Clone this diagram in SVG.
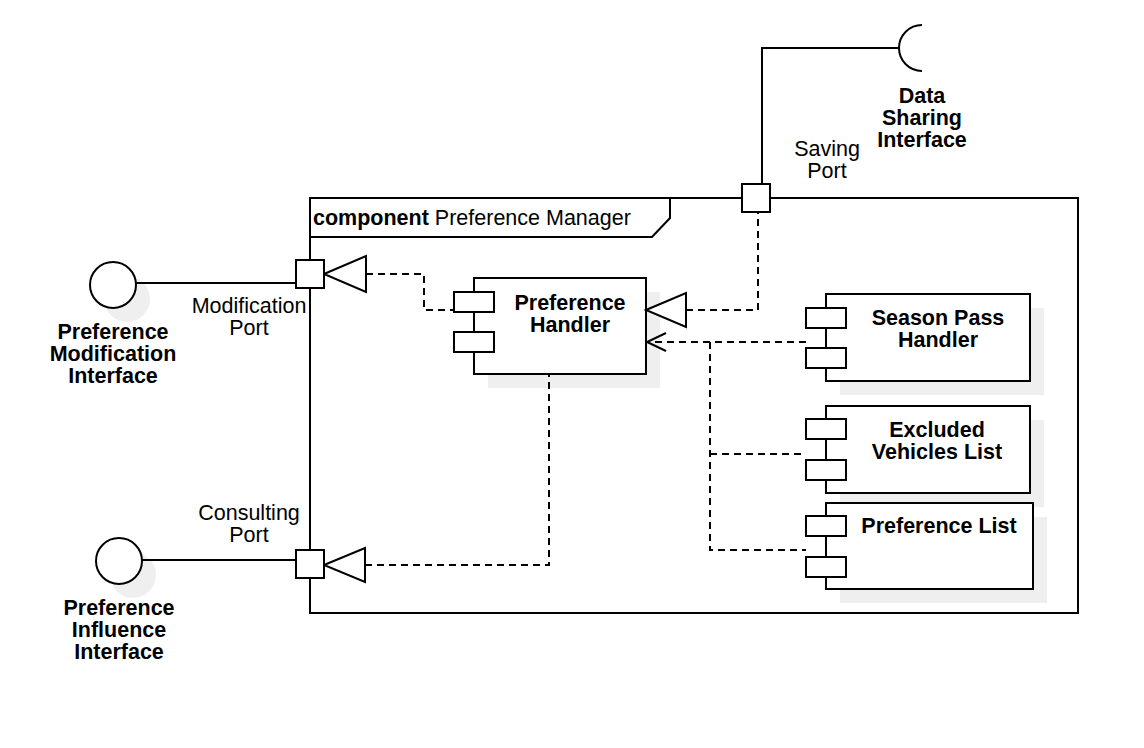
<svg xmlns="http://www.w3.org/2000/svg" width="1144" height="748" viewBox="0 0 1144 748">
<style>
.s{fill:none;stroke:#000;stroke-width:2}
.w{fill:#fff;stroke:#000;stroke-width:2}
.sh{fill:#efefef;stroke:none}
.d{fill:none;stroke:#000;stroke-width:2;stroke-dasharray:7 5}
.t{font-family:"Liberation Sans",Arial,sans-serif;font-size:21.5px;fill:#000}
.b{font-family:"Liberation Sans",Arial,sans-serif;font-size:21.5px;font-weight:bold;fill:#000}
.m{text-anchor:middle}
</style>
<rect width="1144" height="748" fill="#fff"/>
<g id="frame">
<rect x="310" y="198" width="768" height="415" class="s"/>
<path d="M310 237 L652 237 L670 218 L670 198" class="s"/>
<text x="313" y="225" class="t" font-size="22px"><tspan font-weight="bold">component</tspan> Preference Manager</text>
</g>
<g id="pref-mod-interface">
<circle cx="127" cy="299" r="23" class="sh"/>
<circle cx="113" cy="285" r="23" class="w"/>
<text class="b m" x="113" y="339">Preference</text>
<text class="b m" x="113" y="361">Modification</text>
<text class="b m" x="113" y="383">Interface</text>
</g>
<g id="pref-infl-interface">
<circle cx="133" cy="575" r="23" class="sh"/>
<circle cx="119" cy="561" r="23" class="w"/>
<text class="b m" x="119" y="615">Preference</text>
<text class="b m" x="119" y="637">Influence</text>
<text class="b m" x="119" y="659">Interface</text>
</g>
<g id="data-sharing-interface">
<path d="M922 25 A23 23 0 0 0 922 71" class="s"/>
<text class="b m" x="922" y="103">Data</text>
<text class="b m" x="922" y="125">Sharing</text>
<text class="b m" x="922" y="147">Interface</text>
</g>
<g id="preference-handler">
<rect x="488" y="292" width="172" height="96" class="sh"/>
<rect x="474" y="278" width="172" height="96" class="w"/>
<rect x="454" y="292" width="40" height="20" class="w"/>
<rect x="454" y="332" width="40" height="20" class="w"/>
<text class="b m" x="570" y="310">Preference</text>
<text class="b m" x="570" y="332">Handler</text>
</g>
<g id="season-pass-handler">
<rect x="840" y="308" width="204" height="87" class="sh"/>
<rect x="826" y="294" width="204" height="87" class="w"/>
<rect x="806" y="308" width="40" height="20" class="w"/>
<rect x="806" y="348" width="40" height="20" class="w"/>
<text class="b m" x="938" y="325">Season Pass</text>
<text class="b m" x="938" y="347">Handler</text>
</g>
<g id="excluded-vehicles-list">
<rect x="840" y="420" width="204" height="87" class="sh"/>
<rect x="826" y="406" width="204" height="87" class="w"/>
<rect x="806" y="419" width="40" height="20" class="w"/>
<rect x="806" y="460" width="40" height="20" class="w"/>
<text class="b m" x="937" y="437">Excluded</text>
<text class="b m" x="937" y="459">Vehicles List</text>
</g>
<g id="preference-list">
<rect x="840" y="517" width="207" height="86" class="sh"/>
<rect x="826" y="503" width="207" height="86" class="w"/>
<rect x="806" y="516" width="40" height="20" class="w"/>
<rect x="806" y="557" width="40" height="20" class="w"/>
<text class="b m" x="939" y="533">Preference List</text>
</g>
<g id="connectors">
<path d="M136 283 L296 283" class="s"/>
<path d="M142 560 L296 560" class="s"/>
<path d="M762 184 L762 48 L899 48" class="s"/>
<path d="M366 274 L424 274 L424 310 L454 310" class="d"/>
<path d="M324 274 L366 256 L366 292 Z" class="w"/>
<path d="M365 565 L549 565 L549 375" class="d"/>
<path d="M324 565 L365 548 L365 582 Z" class="w"/>
<path d="M686 310 L758 310 L758 212" class="d"/>
<path d="M646 310 L686 293 L686 327 Z" class="w"/>
<path d="M806 342 L648 342" class="d"/>
<path d="M666 333 L647 342 L666 351" class="s"/>
<path d="M710 342 L710 550 L806 550" class="d"/>
<path d="M710 454 L806 454" class="d"/>
</g>
<g id="modification-port">
<rect x="296" y="260" width="28" height="28" class="w"/>
<text class="t m" x="249" y="313">Modification</text>
<text class="t m" x="249" y="335">Port</text>
</g>
<g id="consulting-port">
<rect x="296" y="550" width="28" height="28" class="w"/>
<text class="t m" x="249" y="520">Consulting</text>
<text class="t m" x="249" y="542">Port</text>
</g>
<g id="saving-port">
<rect x="742" y="184" width="28" height="28" class="w"/>
<text class="t m" x="827" y="156">Saving</text>
<text class="t m" x="827" y="178">Port</text>
</g>
</svg>
